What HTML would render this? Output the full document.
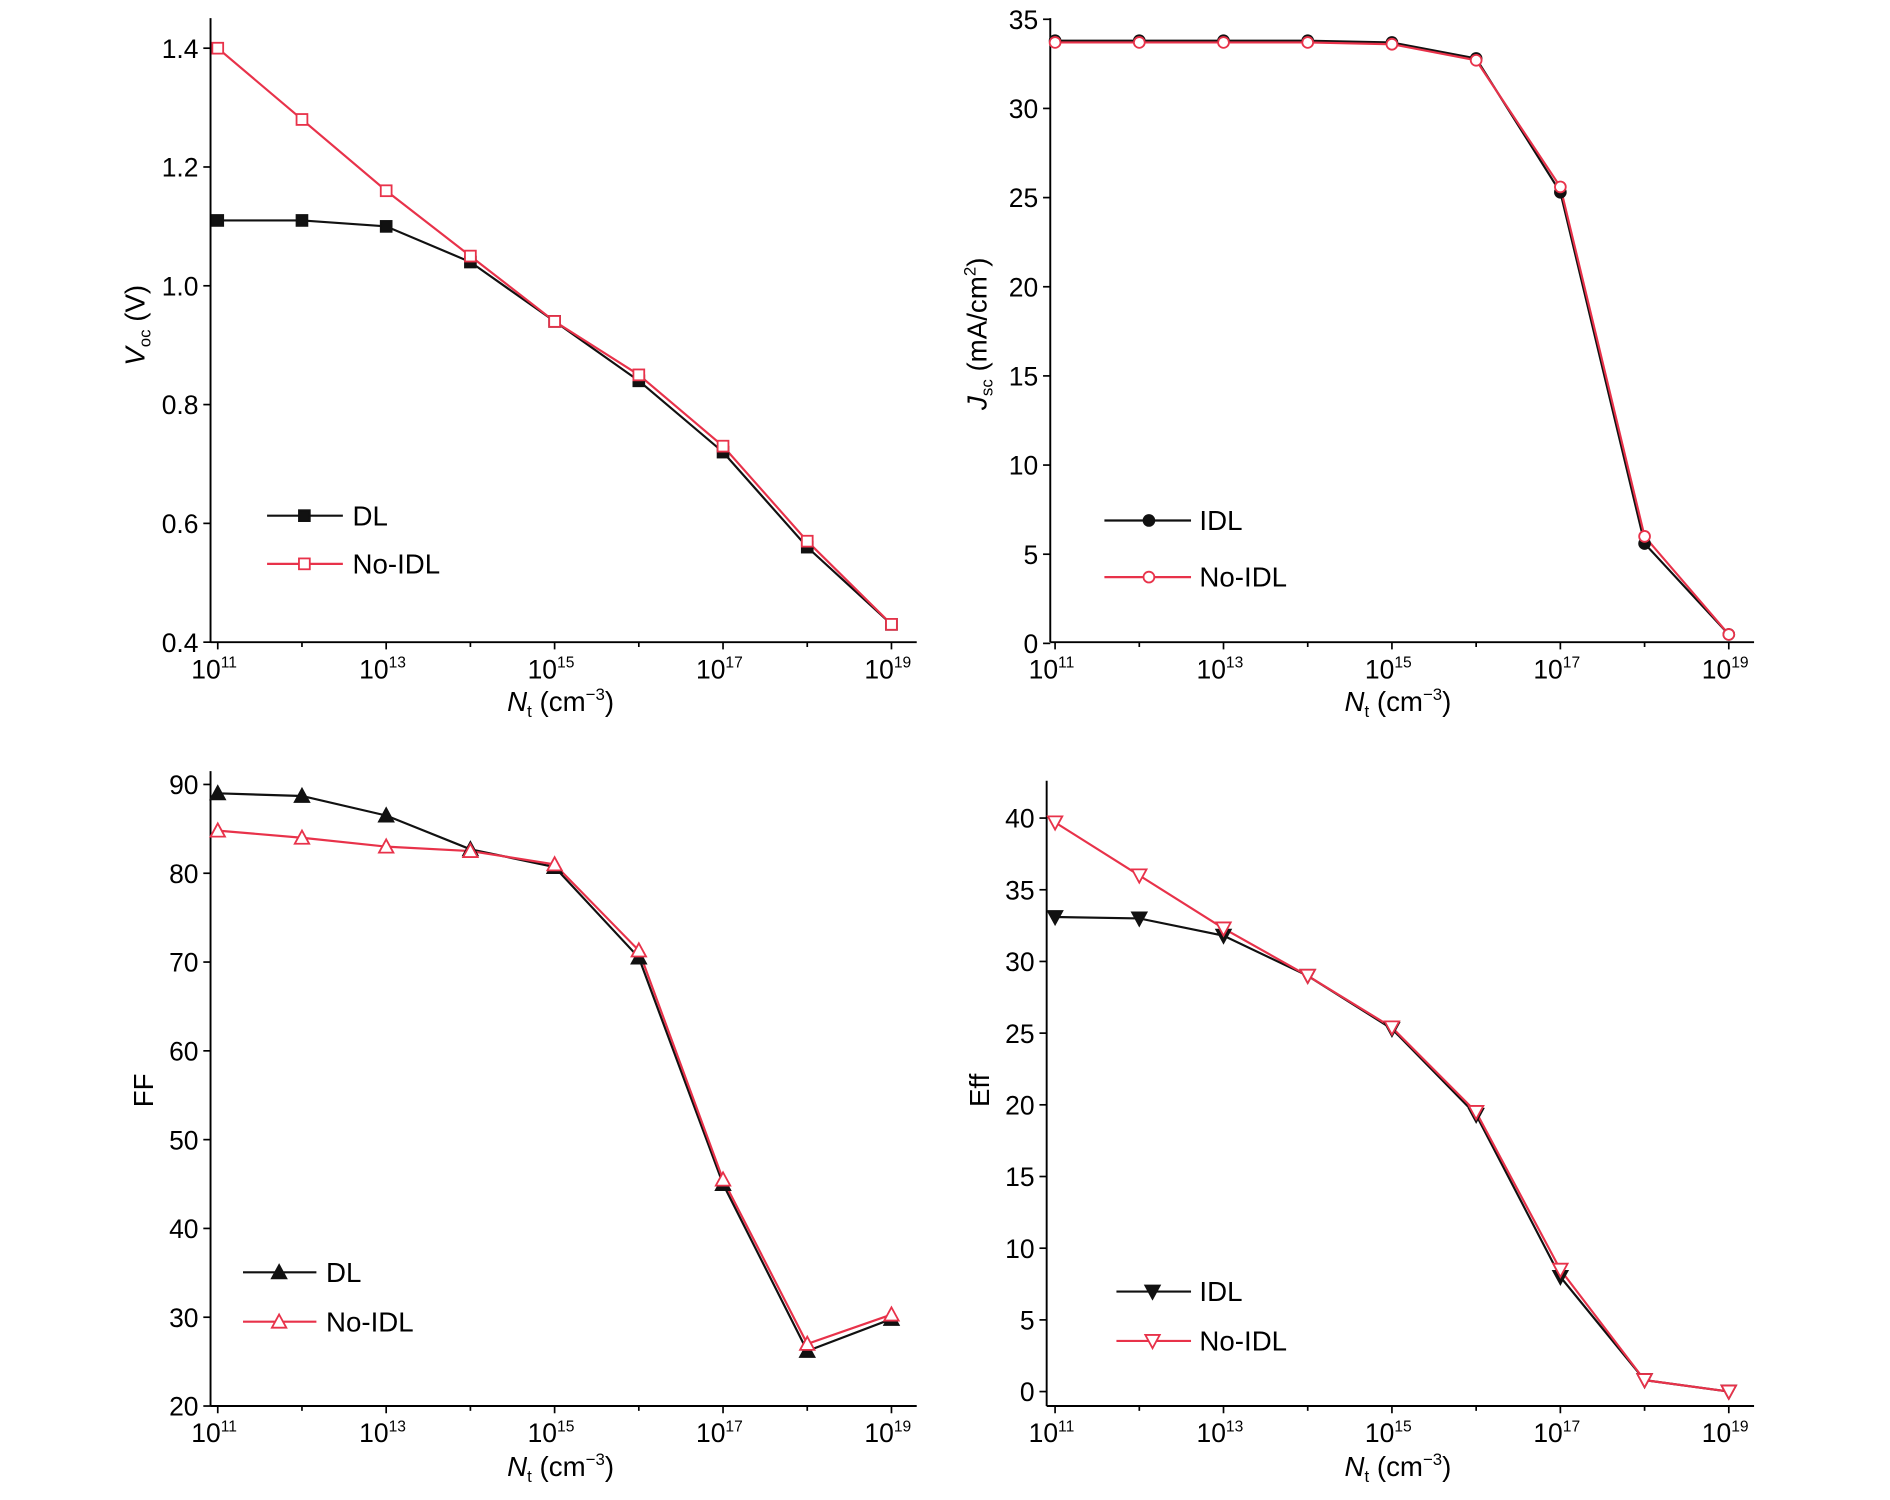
<!DOCTYPE html>
<html><head><meta charset="utf-8"><style>
html,body{margin:0;padding:0;background:#fff;}
svg{display:block;font-family:"Liberation Sans",sans-serif;}
</style></head><body>
<svg id="s" width="1890" height="1500" viewBox="0 0 1571 1245" preserveAspectRatio="none" xmlns="http://www.w3.org/2000/svg"></svg>
<script>
const s=document.getElementById('s');let h='';
const RED='#e8324a',BLK='#111';
function panel(o){
 const {ax,top,bot,right,x0,ymap,yt,d1,d2,mk,leg,ylab,ylx,yly,xlx,xly}=o;
 h+=`<line x1="${ax}" y1="${top}" x2="${ax}" y2="${bot}" stroke="#000" stroke-width="1.6"/>`;
 h+=`<line x1="${ax}" y1="${bot}" x2="${right}" y2="${bot}" stroke="#000" stroke-width="1.6"/>`;
 for(const [v,lab] of yt){const y=ymap(v);h+=`<line x1="${ax-6}" y1="${y}" x2="${ax}" y2="${y}" stroke="#000" stroke-width="1.4"/><text x="${ax-10}" y="${y+8}" font-size="22" text-anchor="end">${lab}</text>`;}
 for(let i=0;i<9;i++){const x=x0+70*i;h+=`<line x1="${x}" y1="${bot}" x2="${x}" y2="${bot+(i%2==0?6:4)}" stroke="#000" stroke-width="1.4"/>`;
  if(i%2==0){h+=`<text x="${x-3}" y="${bot+30}" font-size="22" text-anchor="middle">10<tspan font-size="13" dy="-9">${11+i}</tspan></text>`;}}
 const pts=(d)=>d.map((v,i)=>`${x0+70*i},${ymap(v)}`).join(' ');
 h+=`<polyline points="${pts(d1)}" fill="none" stroke="${BLK}" stroke-width="1.8"/>`;
 h+=`<polyline points="${pts(d2)}" fill="none" stroke="${RED}" stroke-width="1.8"/>`;
 d1.forEach((v,i)=>h+=marker(mk,x0+70*i,ymap(v),true));
 d2.forEach((v,i)=>h+=marker(mk,x0+70*i,ymap(v),false));
 const [lx1,lx2,lm,lt,ly1,ly2,n1]=leg;
 h+=`<line x1="${lx1}" y1="${ly1}" x2="${lx2}" y2="${ly1}" stroke="${BLK}" stroke-width="1.8"/>`+marker(mk,lm,ly1,true)+`<text x="${lt}" y="${ly1+8}" font-size="23">${n1}</text>`;
 h+=`<line x1="${lx1}" y1="${ly2}" x2="${lx2}" y2="${ly2}" stroke="${RED}" stroke-width="1.8"/>`+marker(mk,lm,ly2,false)+`<text x="${lt}" y="${ly2+8}" font-size="23">No-IDL</text>`;
 h+=`<text transform="translate(${ylx},${yly}) rotate(-90)" font-size="23" text-anchor="middle">${ylab}</text>`;
 h+=`<text x="${xlx}" y="${xly}" font-size="23" text-anchor="middle"><tspan font-style="italic">N</tspan><tspan font-size="14" dy="5">t</tspan><tspan dy="-5"> (cm</tspan><tspan font-size="14" dy="-9">−3</tspan><tspan dy="9">)</tspan></text>`;
}
function marker(t,x,y,f){const c=f?BLK:RED,fill=f?BLK:'#fff';
 if(t=='sq')return `<rect x="${x-4.5}" y="${y-4.5}" width="9" height="9" fill="${fill}" stroke="${c}" stroke-width="1.5"/>`;
 if(t=='ci')return `<circle cx="${x}" cy="${y}" r="4.5" fill="${fill}" stroke="${c}" stroke-width="1.5"/>`;
 if(t=='up')return `<polygon points="${x},${y-6} ${x-6},${y+5} ${x+6},${y+5}" fill="${fill}" stroke="${c}" stroke-width="1.5"/>`;
 return `<polygon points="${x},${y+6} ${x-6},${y-5} ${x+6},${y-5}" fill="${fill}" stroke="${c}" stroke-width="1.5"/>`;}
panel({ax:175,top:15,bot:533,right:762,x0:181,ymap:v=>533-(v-0.4)*493,
 yt:[[0.4,'0.4'],[0.6,'0.6'],[0.8,'0.8'],[1.0,'1.0'],[1.2,'1.2'],[1.4,'1.4']],
 d1:[1.11,1.11,1.10,1.04,0.94,0.84,0.72,0.56,0.43],d2:[1.40,1.28,1.16,1.05,0.94,0.85,0.73,0.57,0.43],
 mk:'sq',leg:[222,285,253,293,428,468,'DL'],
 ylab:'<tspan font-style="italic">V</tspan><tspan font-size="14" dy="5">oc</tspan><tspan dy="-5"> (V)</tspan>',ylx:120,yly:270,xlx:466,xly:590});
panel({ax:873,top:15,bot:533,right:1458,x0:877,ymap:v=>534-v*14.8,
 yt:[[0,'0'],[5,'5'],[10,'10'],[15,'15'],[20,'20'],[25,'25'],[30,'30'],[35,'35']],
 d1:[33.8,33.8,33.8,33.8,33.7,32.8,25.3,5.6,0.5],d2:[33.7,33.7,33.7,33.7,33.6,32.7,25.6,6.0,0.5],
 mk:'ci',leg:[918,990,955,997,432,479,'IDL'],
 ylab:'<tspan font-style="italic">J</tspan><tspan font-size="14" dy="5">sc</tspan><tspan dy="-5"> (mA/cm</tspan><tspan font-size="14" dy="-9">2</tspan><tspan dy="9">)</tspan>',ylx:820,yly:277,xlx:1162,xly:590});
panel({ax:175,top:640,bot:1167,right:762,x0:181,ymap:v=>1167-(v-20)*7.37,
 yt:[[20,'20'],[30,'30'],[40,'40'],[50,'50'],[60,'60'],[70,'70'],[80,'80'],[90,'90']],
 d1:[89,88.7,86.5,82.7,80.7,70.5,45,26.2,29.8],d2:[84.8,84,83,82.5,81,71.3,45.5,27,30.3],
 mk:'up',leg:[202,263,232,271,1056,1097,'DL'],
 ylab:'FF',ylx:127,yly:905,xlx:466,xly:1225});
panel({ax:870,top:648,bot:1167,right:1458,x0:877,ymap:v=>1155-v*11.9,
 yt:[[0,'0'],[5,'5'],[10,'10'],[15,'15'],[20,'20'],[25,'25'],[30,'30'],[35,'35'],[40,'40']],
 d1:[33.1,33,31.8,29,25.3,19.3,8,0.8,0],d2:[39.7,36,32.3,29,25.4,19.5,8.5,0.8,0],
 mk:'dn',leg:[928,990,958,997,1072,1113,'IDL'],
 ylab:'Eff',ylx:822,yly:905,xlx:1162,xly:1225});
s.innerHTML=h;
</script>
</body></html>
